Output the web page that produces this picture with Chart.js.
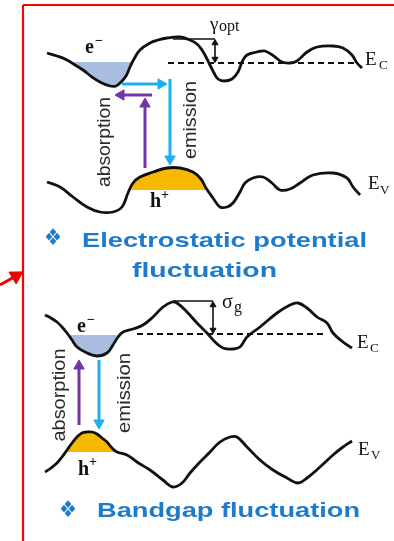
<!DOCTYPE html>
<html>
<head>
<meta charset="utf-8">
<script src="https://cdn.jsdelivr.net/npm/chart.js@4.4.1/dist/chart.umd.min.js"></script>
<style>
  html, body { margin: 0; padding: 0; background: #fff; }
  #wrap { width: 394px; height: 541px; }
</style>
</head>
<body>
<div id="wrap"><canvas id="diagram" width="394" height="541"></canvas></div>
<script>
// band edge profiles, as [x, y] pairs in pixel units (y grows downwards)
const ecTop = [[47,53],[57,56],[67,60],[75,65],[83,70],[92,77],[100,82],[110,86],[116,86],[121,82],[126,76],[130,67],[134,59],[140,50],[150,43],[158,40],[167,38],[180,37],[190,40],[197,44],[202,50],[206,57],[210,65],[214,73],[218,79],[224,81],[232,79],[238,72],[242,62],[247,55],[257,52],[265,51],[275,57],[282,62],[290,63],[297,61],[307,52],[317,47],[333,46],[343,48],[352,55],[357,63],[362,68]];
const evTop = [[47,182],[60,187],[73,197],[87,207],[100,212],[113,212],[122,207],[128,193],[133,183],[140,177],[153,172],[167,168],[180,168],[193,172],[201,179],[206,188],[213,198],[220,207],[227,207],[233,203],[240,192],[245,183],[253,178],[263,177],[272,183],[280,190],[290,189],[300,183],[313,175],[333,173],[347,178],[353,187],[360,195]];
const ecBottom = [[45,315],[51,318],[57,322],[62,327],[67,333],[72,340],[77,347],[87,353],[97,356],[107,353],[113,345],[118,337],[123,332],[133,329],[143,325],[153,317],[163,307],[172,302],[177,303],[187,312],[197,323],[207,333],[215,342],[223,348],[233,349],[240,347],[247,337],[260,327],[277,313],[290,305],[298,303],[307,308],[317,317],[327,323],[333,333],[343,342],[352,348]];
const evBottom = [[45,472],[51,468],[57,463],[62,457],[67,450],[72,443],[77,437],[82,433],[87,432],[92,432],[97,434],[102,438],[107,442],[112,448],[117,452],[127,455],[137,462],[150,470],[163,480],[173,487],[182,483],[190,473],[200,462],[210,452],[220,442],[230,437],[237,437],[247,447],[260,460],[273,470],[287,478],[298,483],[307,478],[320,467],[333,455],[343,447],[352,441]];

// carrier pockets (electrons in the wells, holes on the humps) and their flat levels
const eFillTop = [[70,62],[75,65],[83,70],[92,77],[100,82],[110,86],[116,86],[121,82],[126,76],[130,67],[132,62]];
const hFillTop = [[130,190],[133,183],[140,177],[153,172],[167,168],[180,168],[193,172],[201,179],[207,190]];
const eFillBottom = [[68,335],[72,340],[77,347],[87,353],[97,356],[107,353],[113,345],[117,335]];
const hFillBottom = [[66,452],[67,450],[72,443],[77,437],[82,433],[87,432],[92,432],[97,434],[102,438],[107,442],[112,448],[115,452]];
const fillLevels = [62, 190, 335, 452];

// mean band edge (dashed) and amplitude markers
const meanTop = [[168,63],[357,63]];
const meanBottom = [[137,334],[326,334]];
const gammaBar = [[173,39],[215,39]];
const gammaSpan = [[215,43],[215,59]];
const sigmaBar = [[173,301],[213,301]];
const sigmaSpan = [[213,305],[213,330]];

// transitions
const emitTopH = [[122,84],[161,84]];
const emitTopV = [[170,79],[170,159]];
const absTopV = [[145,168],[145,104]];
const absTopH = [[152,95],[121,95]];
const absBottom = [[79,425],[79,366]];
const emitBottom = [[99,360],[99,423]];

// frame and pointer
const frameTop = [[23,5],[394,5]];
const frameLeft = [[23,5],[23,541]];
const pointer = [[0,285],[16,276]];

const BLUE = '#1e7bcc';
const toXY = pts => pts.map(([x, y]) => ({ x: x, y: y }));

function curve(pts) {
    return { data: toXY(pts), borderColor: '#111', borderWidth: 2.8, tension: 0.4, fill: false, pointRadius: 0, order: 1 };
}
function pocket(pts, level, color) {
    return { data: toXY(pts), borderColor: 'rgba(0,0,0,0)', borderWidth: 0, backgroundColor: color,
        fill: { value: level }, tension: 0.4, pointRadius: 0, order: 3 };
}
function plain(pts, color, width, dash) {
    return { data: toXY(pts), borderColor: color, borderWidth: width, borderDash: dash || [], tension: 0, fill: false, pointRadius: 0, order: 2 };
}
// line with triangle heads; radii/rotations per point
function arrow(pts, color, width, radii, rot) {
    return { data: toXY(pts), borderColor: color, borderWidth: width, tension: 0, fill: false,
        pointStyle: 'triangle', pointRadius: radii, pointRotation: rot,
        pointBackgroundColor: color, pointBorderColor: color, pointBorderWidth: 1, order: 0 };
}

const datasets = [
    pocket(eFillTop, fillLevels[0], '#a9bde0'),
    pocket(hFillTop, fillLevels[1], '#f7b900'),
    pocket(eFillBottom, fillLevels[2], '#a9bde0'),
    pocket(hFillBottom, fillLevels[3], '#f7b900'),
    curve(ecTop), curve(evTop), curve(ecBottom), curve(evBottom),
    plain(meanTop, '#111', 2, [6, 4]),
    plain(meanBottom, '#111', 2, [6, 4]),
    plain(gammaBar, '#111', 1.6),
    plain(sigmaBar, '#111', 1.6),
    arrow(gammaSpan, '#111', 1.6, [3.5, 3.5], [0, 180]),
    arrow(sigmaSpan, '#111', 1.6, [3.5, 3.5], [0, 180]),
    arrow(emitTopH, '#1cb0ef', 3, [0, 6], [0, 90]),
    arrow(emitTopV, '#1cb0ef', 3, [0, 6], [0, 180]),
    arrow(absTopV, '#7434a6', 3, [0, 6], [0, 0]),
    arrow(absTopH, '#7434a6', 3, [0, 6], [0, 270]),
    arrow(absBottom, '#7434a6', 3, [0, 6], [0, 0]),
    arrow(emitBottom, '#1cb0ef', 3, [0, 6], [0, 180]),
    plain(frameTop, '#ff0000', 2.2),
    plain(frameLeft, '#ff0000', 2.2),
    arrow(pointer, '#ee0000', 3, [0, 8], [0, 59])
];

// text layer, placed through the scales
const labelPlugin = {
    id: 'labels',
    afterDatasetsDraw(chart) {
        const ctx = chart.ctx;
        const sx = chart.scales.x, sy = chart.scales.y;

        function put(text, x, y, o) {
            ctx.save();
            ctx.font = o.font;
            ctx.fillStyle = o.color || '#111';
            ctx.textAlign = o.align || 'left';
            ctx.textBaseline = o.baseline || 'alphabetic';
            ctx.translate(sx.getPixelForValue(x), sy.getPixelForValue(y));
            if (o.rotate) ctx.rotate(-Math.PI / 2);
            if (o.width) ctx.scale(o.width / ctx.measureText(text).width, 1);
            ctx.fillText(text, 0, 0);
            ctx.restore();
        }

        const serif = '"Liberation Serif", "DejaVu Serif", serif';
        const sans = '"Liberation Sans", Arial, sans-serif';

        // band names
        [[365, 65, 'C', 379, 69], [368, 189, 'V', 380, 194], [357, 348, 'C', 370, 352], [358, 455, 'V', 371, 459]]
            .forEach(([x, y, s, x2, y2]) => {
                put('E', x, y, { font: '19px ' + serif });
                put(s, x2, y2, { font: '13px ' + serif });
            });

        // fluctuation amplitudes
        put('\u03B3', 210, 30, { font: '19px ' + serif });
        put('opt', 219, 31, { font: '16px ' + serif });
        put('\u03C3', 222, 308, { font: '20px ' + serif });
        put('g', 234, 312, { font: '16px ' + serif });

        // carriers
        put('e', 85, 53, { font: 'bold 20px ' + serif });
        put('\u2212', 95, 45, { font: 'bold 14px ' + serif });
        put('h', 150, 207, { font: 'bold 20px ' + serif });
        put('+', 161, 199, { font: 'bold 14px ' + serif });
        put('e', 77, 332, { font: 'bold 20px ' + serif });
        put('\u2212', 87, 324, { font: 'bold 14px ' + serif });
        put('h', 78, 475, { font: 'bold 20px ' + serif });
        put('+', 89, 466, { font: 'bold 14px ' + serif });

        // transition names
        const rot = { font: '19px ' + sans, color: '#2b2b2b', rotate: true, align: 'center', baseline: 'middle' };
        put('absorption', 105, 142, Object.assign({ width: 90 }, rot));
        put('emission', 191, 120, Object.assign({ width: 78 }, rot));
        put('absorption', 60, 395, Object.assign({ width: 93 }, rot));
        put('emission', 125, 393, Object.assign({ width: 80 }, rot));

        // headings
        const head = { font: 'bold 21px ' + sans, color: BLUE };
        const bullet = { font: '23px "DejaVu Sans"', color: BLUE, baseline: 'middle', width: 18 };
        put('\u2756', 44, 239, bullet);
        put('Electrostatic potential', 82, 247, Object.assign({ width: 285 }, head));
        put('fluctuation', 132, 277, Object.assign({ width: 145 }, head));
        put('\u2756', 59, 511, bullet);
        put('Bandgap fluctuation', 97, 517, Object.assign({ width: 263 }, head));
    }
};

new Chart(document.getElementById('diagram').getContext('2d'), {
    type: 'line',
    data: { datasets: datasets },
    options: {
        responsive: false,
        animation: false,
        events: [],
        layout: { padding: 0, autoPadding: false },
        elements: { point: { radius: 0 } },
        scales: {
            x: { type: 'linear', min: 0, max: 394, display: false },
            y: { type: 'linear', min: 0, max: 541, reverse: true, display: false }
        },
        plugins: { legend: { display: false }, tooltip: { enabled: false } }
    },
    plugins: [labelPlugin]
});
</script>
</body>
</html>
